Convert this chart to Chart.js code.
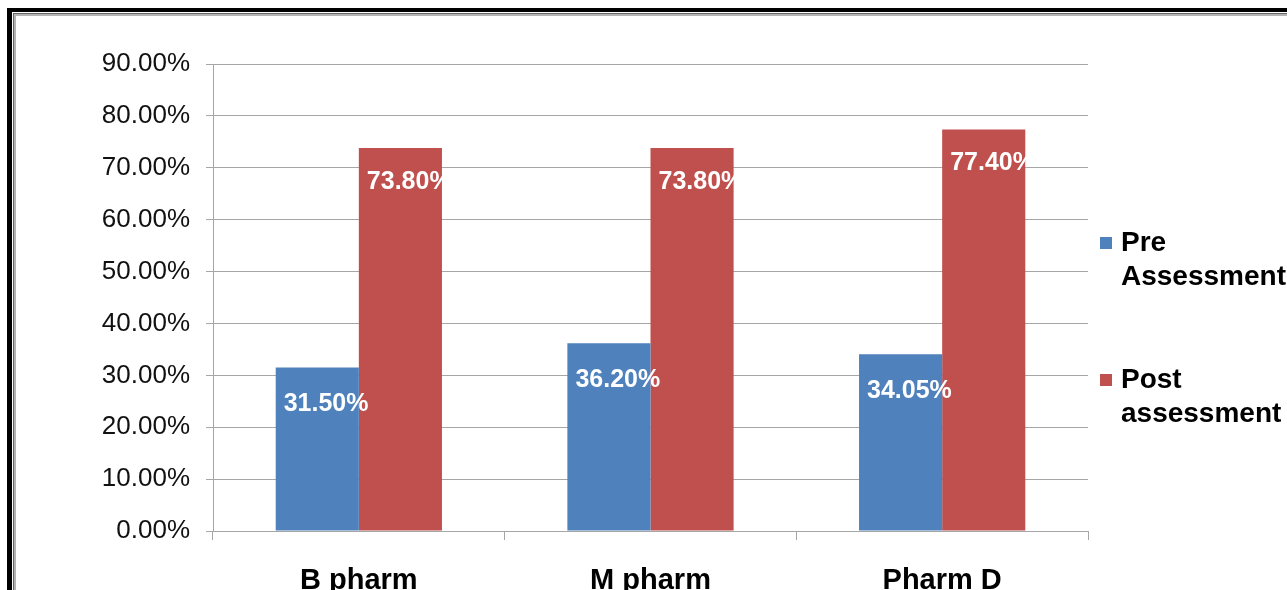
<!DOCTYPE html>
<html>
<head>
<meta charset="utf-8">
<script src="https://cdn.jsdelivr.net/npm/chart.js@4/dist/chart.umd.min.js"></script>
<style>
  html, body { margin: 0; padding: 0; background: #fff; overflow: hidden; }
  #frame { position: absolute; left: 7px; top: 8px; width: 1300px; height: 600px;
           border-left: 5px solid #000; border-top: 4px solid #000; box-sizing: border-box; }
  #frame2 { position: absolute; left: 1px; top: 1px; right: 0; bottom: 0;
            border-left: 1px solid #666; border-top: 1px solid #666; }
  #frame3 { position: absolute; left: 0; top: 0; right: 0; bottom: 0;
            border-left: 2px solid #b4b4b4; border-top: 2px solid #b4b4b4; }
  #wrap { position: absolute; left: 0; top: 0; width: 1287px; height: 590px; }
</style>
</head>
<body>
<div id="frame"><div id="frame2"><div id="frame3"></div></div></div>
<div id="wrap"><canvas id="c" width="1287" height="590"></canvas></div>
<script>
// Programmes and assessment scores (percent)
const categories = ['B pharm', 'M pharm', 'Pharm D'];
const seriesNames = ['Pre Assessment', 'Post assessment'];
const preValues = [31.50, 36.20, 34.05];
const postValues = [73.80, 73.80, 77.40];
const yTicks = [0, 10, 20, 30, 40, 50, 60, 70, 80, 90];

const BLUE = '#4F81BD';
const RED = '#C0504D';
const GRID = '#a6a6a6';
const FONT = '"Liberation Sans", Arial, sans-serif';

// White value labels printed inside the top of each bar
const valueLabels = {
  id: 'valueLabels',
  afterDatasetsDraw(chart) {
    const ctx = chart.ctx;
    chart.data.datasets.forEach((ds, di) => {
      const meta = chart.getDatasetMeta(di);
      meta.data.forEach((bar, i) => {
        const left = bar.x - bar.width / 2;
        const right = bar.x + bar.width / 2;
        ctx.save();
        if (di === 1) {
          ctx.beginPath();
          ctx.rect(left, bar.y, right - left + 1, bar.base - bar.y);
          ctx.clip();
        }
        ctx.font = 'bold 25px ' + FONT;
        ctx.fillStyle = '#fff';
        ctx.textAlign = 'left';
        ctx.textBaseline = 'middle';
        ctx.fillText(ds.data[i].toFixed(2) + '%', left + 8, bar.y + (di === 0 ? 37 : 34));
        ctx.restore();
      });
    });
  }
};

// Legend at the right: colour square followed by a two-line caption
const sideLegend = {
  id: 'sideLegend',
  afterDraw(chart) {
    const ctx = chart.ctx;
    const x0 = chart.chartArea.right + 12;
    const tops = [243, 380];
    chart.data.datasets.forEach((ds, di) => {
      const y = tops[di];
      ctx.save();
      ctx.fillStyle = ds.backgroundColor;
      ctx.fillRect(x0, y - 6, 12, 12);
      ctx.font = 'bold 28px ' + FONT;
      ctx.fillStyle = '#000';
      ctx.textAlign = 'left';
      ctx.textBaseline = 'middle';
      const sp = ds.label.indexOf(' ');
      const lines = [ds.label.slice(0, sp), ds.label.slice(sp + 1)];
      lines.forEach((t, li) => ctx.fillText(t, x0 + 21, y + li * 34));
      ctx.restore();
    });
  }
};

new Chart(document.getElementById('c'), {
  type: 'bar',
  data: {
    labels: categories,
    datasets: [
      { label: seriesNames[0], data: preValues, backgroundColor: BLUE },
      { label: seriesNames[1], data: postValues, backgroundColor: RED }
    ]
  },
  options: {
    responsive: false,
    animation: false,
    devicePixelRatio: 1,
    layout: { padding: { left: 0, right: 199, top: 64, bottom: 0 } },
    datasets: { bar: { categoryPercentage: 0.57, barPercentage: 1.0 } },
    plugins: { legend: { display: false }, tooltip: { enabled: false } },
    scales: {
      x: {
        grid: { display: true, drawOnChartArea: false, offset: true, color: GRID, tickLength: 9 },
        border: { display: true, color: GRID },
        ticks: { color: '#000', font: { family: FONT, size: 29, weight: 'bold' }, padding: 24 },
        afterFit(scale) { scale.height = 59; }
      },
      y: {
        min: 0, max: 90,
        afterBuildTicks(scale) { scale.ticks = yTicks.map(v => ({ value: v })); },
        grid: { color: GRID, tickLength: 7 },
        border: { display: true, color: GRID },
        ticks: {
          color: '#111',
          font: { family: FONT, size: 26 },
          padding: 16,
          callback: v => Number(v).toFixed(2) + '%'
        },
        afterFit(scale) { scale.width = 213; }
      }
    }
  },
  plugins: [valueLabels, sideLegend]
});
</script>
</body>
</html>
